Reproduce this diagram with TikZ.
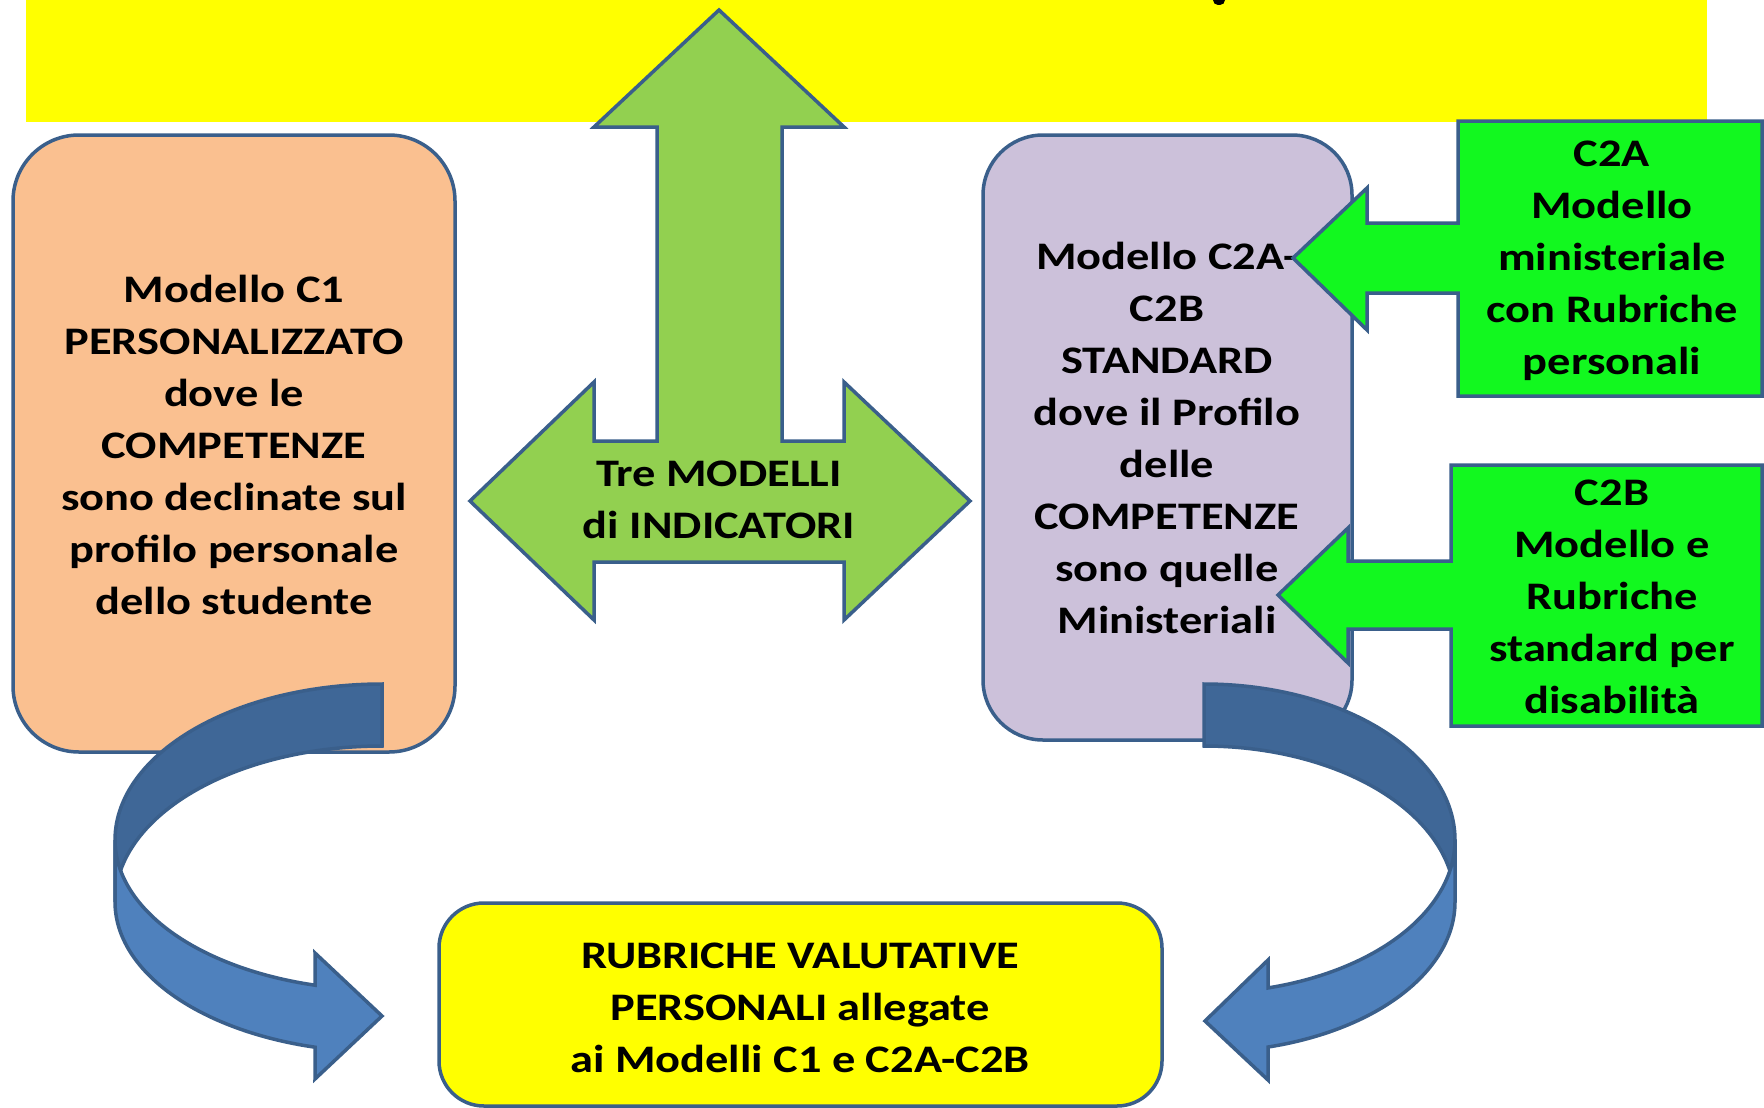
\documentclass[tikz,border=0pt]{standalone}
\usepackage{fontspec}
\setmainfont{Carlito}[FakeStretch=1.19]
\definecolor{bord}{HTML}{3A5F8B}
\definecolor{banyel}{HTML}{FFFF00}
\definecolor{peach}{HTML}{FAC090}
\definecolor{lilac}{HTML}{CCC1DA}
\definecolor{lgreen}{HTML}{92D050}
\definecolor{bgreen}{HTML}{12F81F}
\definecolor{blight}{HTML}{4F81BD}
\definecolor{bdark}{HTML}{3F6797}
\begin{document}
\begin{tikzpicture}[x=1pt,y=-1pt,
  shp/.style={draw=bord,line width=3.5pt},
  txt/.style={font=\fontsize{39}{52}\selectfont\bfseries,align=center,inner sep=0pt,text=black}]
\useasboundingbox (0,0) rectangle (1764,1108);
\fill[white] (0,0) rectangle (1764,1108);
% top banner
\fill[banyel] (26,0) rectangle (1707,122);
\fill[black,rounded corners=5] (1213,-8) rectangle (1225,5);
% green three-way arrow
\draw[shp,fill=lgreen] (719,10) -- (844,127) -- (782,127) -- (782,441) -- (844,441) -- (844,382) -- (970,501) -- (844,620) -- (844,562) -- (594,562) -- (594,620) -- (470,501) -- (594,382) -- (594,441) -- (657,441) -- (657,127) -- (594,127) -- cycle;
\node[txt] (tre) at (719,500) {Tre MODELLI\\di INDICATORI};
% orange box
\draw[shp,fill=peach,rounded corners=66] (13,135) rectangle (455,752);
\node[txt] (c1txt) at (234,445) {Modello C1\\PERSONALIZZATO\\dove le\\COMPETENZE\\sono declinate sul\\profilo personale\\dello studente};
% purple box
\draw[shp,fill=lilac,rounded corners=60] (983,135) rectangle (1352,740);
\node[txt] (c2txt) at (1167,438) {Modello C2A-\\C2B\\STANDARD\\dove il Profilo\\delle\\COMPETENZE\\sono quelle\\Ministeriali};
% callouts
\draw[shp,fill=bgreen] (1458,121) -- (1762,121) -- (1762,396) -- (1458,396) -- (1458,293) -- (1367,293) -- (1367,330) -- (1293,258) -- (1367,188) -- (1367,223) -- (1458,223) -- cycle;
\node[txt] (c2atxt) at (1612,261) {C2A\\Modello\\ministeriale\\con Rubriche\\personali};
\draw[shp,fill=bgreen] (1451,465) -- (1762,465) -- (1762,726) -- (1451,726) -- (1451,629) -- (1348,629) -- (1348,663) -- (1278,595) -- (1348,528) -- (1348,561) -- (1451,561) -- cycle;
\node[txt] (c2btxt) at (1612,597) {C2B\\Modello e\\Rubriche\\standard per\\disabilità};
% left curved arrow
\draw[shp,fill=bdark] plot[smooth,domain=270:180,samples=30] ({382+267*cos(\x)},{840+156*sin(\x)}) -- plot[smooth,domain=180:270,samples=30] ({382+267*cos(\x)},{902+156*sin(\x)}) -- cycle;
\draw[shp,fill=blight] plot[smooth,domain=180:104.5,samples=30] ({382+267*cos(\x)},{840+150*sin(\x)}) -- (315,953) -- (382,1016) -- (315,1079) -- plot[smooth,domain=104.5:180,samples=30] ({382+267*cos(\x)},{902+150*sin(\x)}) -- cycle;
% right curved arrow
\draw[shp,fill=bdark] plot[smooth,domain=-90:0,samples=30] ({1204+251*cos(\x)},{840+156*sin(\x)}) -- plot[smooth,domain=0:-90,samples=30] ({1204+251*cos(\x)},{902+156*sin(\x)}) -- cycle;
\draw[shp,fill=blight] plot[smooth,domain=0:75.2,samples=30] ({1204+251*cos(\x)},{840+153*sin(\x)}) -- (1268,960) -- (1205,1021) -- (1268,1080) -- plot[smooth,domain=75.2:0,samples=30] ({1204+251*cos(\x)},{902+150*sin(\x)}) -- cycle;
% bottom box
\draw[shp,fill=banyel,rounded corners=45] (439,903) rectangle (1162,1106);
\node[txt] (rubtxt) at (800,1008) {RUBRICHE VALUTATIVE\\PERSONALI allegate\\ai Modelli C1 e C2A-C2B};
\end{tikzpicture}
\end{document}
